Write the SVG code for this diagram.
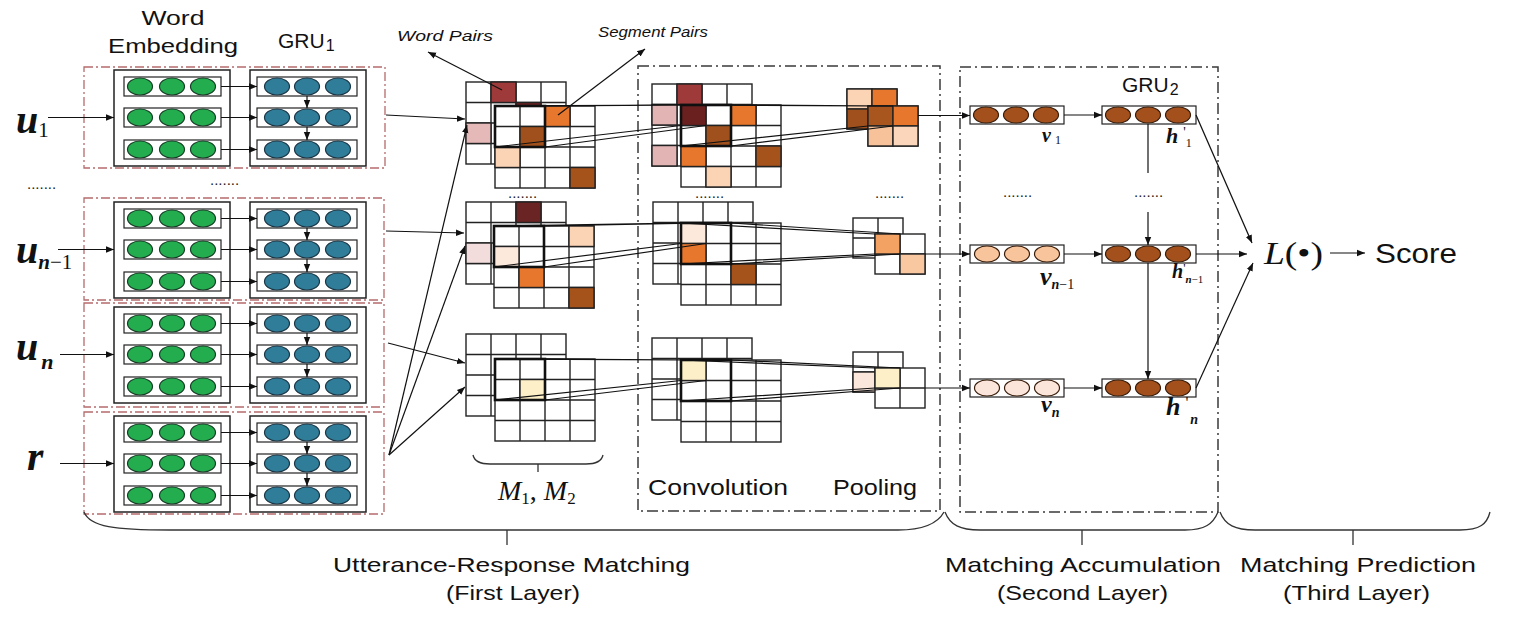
<svg xmlns="http://www.w3.org/2000/svg" xmlns:xlink="http://www.w3.org/1999/xlink" width="1524" height="624" viewBox="0 0 1524 624">
<style>
.sans{font-family:"Liberation Sans",Arial,sans-serif;fill:#111}
.ser{font-family:"Liberation Serif","Times New Roman",serif;fill:#111}
.bi{font-weight:bold;font-style:italic}
.it{font-style:italic}
.red{fill:none;stroke:#b56b6b;stroke-width:1.3;stroke-dasharray:9,3,2,3}
.gray{fill:none;stroke:#3a3a3a;stroke-width:1.5;stroke-dasharray:11,4,2,4}
.box{fill:none;stroke:#222;stroke-width:1.5}
.row{fill:#fff;stroke:#222;stroke-width:1.2}
.gr{fill:#23ad4e;stroke:#173f27;stroke-width:1.2}
.bl{fill:#2f7d98;stroke:#1b3646;stroke-width:1.2}
.cell{stroke:#222;stroke-width:1.4}
.grid{fill:#fff;stroke:#222;stroke-width:1.4}
.win{fill:none;stroke:#111;stroke-width:2.6}
.ln{fill:none;stroke:#111;stroke-width:1.2}
.ar{fill:none;stroke:#111;stroke-width:1.2;marker-end:url(#ah)}
.br{fill:none;stroke:#333;stroke-width:1.3}
.vb{fill:#fff;stroke:#222;stroke-width:1.2}
.dk{fill:#a3501c;stroke:#3a1e0c;stroke-width:1.2}
.dots{font-family:"Liberation Sans",Arial,sans-serif;font-size:15px;fill:#222}
</style>
<defs>
<marker id="ah" viewBox="0 0 10 10" refX="10" refY="5" markerWidth="8" markerHeight="8" markerUnits="userSpaceOnUse" orient="auto"><path d="M0,1 L10,5 L0,9 z" fill="#111"/></marker>
<g id="grow"><rect class="row" x="0" y="0" width="97" height="19"/><ellipse class="gr" cx="16" cy="9.5" rx="12.5" ry="8.5"/><ellipse class="gr" cx="48" cy="9.5" rx="12.5" ry="8.5"/><ellipse class="gr" cx="79" cy="9.5" rx="12.5" ry="8.5"/></g>
<g id="brow"><rect class="row" x="0" y="0" width="100" height="19"/><ellipse class="bl" cx="20" cy="9.5" rx="12.5" ry="8.5"/><ellipse class="bl" cx="50" cy="9.5" rx="12.5" ry="8.5"/><ellipse class="bl" cx="81" cy="9.5" rx="12.5" ry="8.5"/></g>
<g id="enc">
<rect class="box" x="114" y="0" width="116" height="96"/>
<rect class="box" x="250" y="0" width="116" height="96"/>
<use xlink:href="#grow" x="124" y="7"/><use xlink:href="#grow" x="124" y="38"/><use xlink:href="#grow" x="124" y="70"/>
<use xlink:href="#brow" x="257" y="7"/><use xlink:href="#brow" x="257" y="38"/><use xlink:href="#brow" x="257" y="70"/>
<path class="ar" d="M221,16.5H257"/><path class="ar" d="M221,47.5H257"/><path class="ar" d="M221,79.5H257"/>
<path class="ar" d="M307,26V38"/><path class="ar" d="M307,57V70"/>
</g>
<g id="grid4"><rect class="grid" x="0" y="0" width="100" height="82"/><path class="ln" style="stroke-width:1.4;stroke:#222" d="M25,0V82M50,0V82M75,0V82M0,20.5H100M0,41H100M0,61.5H100"/></g>
<g id="grid2"><rect class="grid" x="0" y="0" width="50" height="40"/><path class="ln" style="stroke-width:1.4;stroke:#222" d="M25,0V40M0,20H50"/></g>
<g id="vrowd"><rect class="vb" x="0" y="0" width="94" height="18"/><ellipse class="dk" cx="16" cy="9" rx="12.5" ry="8"/><ellipse class="dk" cx="46" cy="9" rx="12.5" ry="8"/><ellipse class="dk" cx="76" cy="9" rx="12.5" ry="8"/></g>
</defs>
<rect x="0" y="0" width="1524" height="624" fill="#fff"/>

<!-- header labels -->
<g id="labels-top">
<text class="sans" x="173" y="25" font-size="21" text-anchor="middle" textLength="63" lengthAdjust="spacingAndGlyphs">Word</text>
<text class="sans" x="173" y="53" font-size="21" text-anchor="middle" textLength="130" lengthAdjust="spacingAndGlyphs">Embedding</text>
<text class="sans" x="278" y="48" font-size="21">GRU<tspan font-size="16" dx="1" dy="3">1</tspan></text>
<text class="sans it" x="397" y="41" font-size="15" textLength="96" lengthAdjust="spacingAndGlyphs">Word Pairs</text>
<text class="sans it" x="598" y="37" font-size="14" textLength="110" lengthAdjust="spacingAndGlyphs">Segment Pairs</text>
<text class="dots" x="27" y="189">.......</text>
<text class="dots" x="210" y="185">.......</text>
</g>

<!-- encoder blocks -->
<g id="node-u1">
<rect class="red" x="84" y="67" width="301" height="101"/>
<use xlink:href="#enc" x="0" y="70"/>
<text class="ser bi" x="16" y="133" font-size="40">u<tspan font-weight="normal" font-style="normal" font-size="21" dy="4">1</tspan></text>
</g>
<g id="node-un1">
<rect class="red" x="84" y="198" width="300" height="102"/>
<use xlink:href="#enc" x="0" y="202"/>
<text class="ser bi" x="16" y="263" font-size="40">u<tspan font-size="21" dy="6">n</tspan><tspan font-weight="normal" font-style="normal" font-size="21">−1</tspan></text>
</g>
<g id="node-un">
<rect class="red" x="84" y="303" width="300" height="104"/>
<use xlink:href="#enc" x="0" y="307"/>
<text class="ser bi" x="16" y="360" font-size="40">u<tspan font-size="22" dx="3" dy="9">n</tspan></text>
</g>
<g id="node-r">
<rect class="red" x="84" y="412" width="300" height="102"/>
<use xlink:href="#enc" x="0" y="416"/>
<text class="ser bi" x="27" y="470" font-size="42">r</text>
</g>

<!-- convolution/pooling box -->
<g id="node-cnn-frame">
<rect class="gray" x="638" y="66" width="302" height="445"/>
<text class="sans" x="648" y="495" font-size="22" textLength="140" lengthAdjust="spacingAndGlyphs">Convolution</text>
<text class="sans" x="833" y="495" font-size="22" textLength="84" lengthAdjust="spacingAndGlyphs">Pooling</text>
</g>

<!-- matrices group 1 -->
<g id="node-m1">
<use xlink:href="#grid4" x="466" y="82"/>
<rect class="cell" x="491" y="82" width="25" height="20.5" fill="#9e3a3a"/>
<rect class="cell" x="516" y="102.5" width="25" height="20.5" fill="#6b2222"/>
<rect class="cell" x="466" y="123" width="25" height="20.5" fill="#e6b9b9"/>
<use xlink:href="#grid4" x="495" y="106"/>
<rect class="cell" x="545" y="106" width="25" height="20.5" fill="#e8772e"/>
<rect class="cell" x="520" y="126.5" width="25" height="20.5" fill="#a0501c"/>
<rect class="cell" x="495" y="147" width="25" height="20.5" fill="#fbd3b5"/>
<rect class="cell" x="570" y="167.5" width="25" height="20.5" fill="#a5521b"/>
<rect class="win" x="495" y="106" width="50" height="41"/>
<text class="dots" x="508" y="198">.......</text>
</g>
<g id="node-conv1">
<use xlink:href="#grid4" x="652" y="84"/>
<rect class="cell" x="677" y="84" width="25" height="20.5" fill="#9e3a3a"/>
<rect class="cell" x="652" y="104.5" width="25" height="20.5" fill="#e3b4b4"/>
<rect class="cell" x="652" y="145.5" width="25" height="20.5" fill="#e3b4b4"/>
<use xlink:href="#grid4" x="681" y="105"/>
<rect class="cell" x="681" y="105" width="25" height="20.5" fill="#6b2020"/>
<rect class="cell" x="731" y="105" width="25" height="20.5" fill="#e8772e"/>
<rect class="cell" x="706" y="125.5" width="25" height="20.5" fill="#a0501c"/>
<rect class="cell" x="681" y="146" width="25" height="20.5" fill="#e8772e"/>
<rect class="cell" x="756" y="146" width="25" height="20.5" fill="#a5521b"/>
<rect class="cell" x="706" y="166.5" width="25" height="20.5" fill="#fbd3b5"/>
<rect class="win" x="681" y="105" width="50" height="41"/>
<text class="dots" x="695" y="198">.......</text>
</g>
<g id="node-pool1">
<use xlink:href="#grid2" x="847" y="89"/>
<rect class="cell" x="847" y="89" width="25" height="20" fill="#fbd3b5"/>
<rect class="cell" x="872" y="89" width="25" height="20" fill="#e8772e"/>
<rect class="cell" x="847" y="109" width="25" height="20" fill="#a0501c"/>
<use xlink:href="#grid2" x="868" y="106"/>
<rect class="cell" x="868" y="106" width="25" height="20" fill="#a8561e"/>
<rect class="cell" x="893" y="106" width="25" height="20" fill="#e8772e"/>
<rect class="cell" x="868" y="126" width="25" height="20" fill="#f7c19a"/>
<rect class="cell" x="893" y="126" width="25" height="20" fill="#fbd6bb"/>
<text class="dots" x="875" y="198">.......</text>
</g>

<!-- matrices group 2 -->
<g id="node-m2">
<use xlink:href="#grid4" x="466" y="202"/>
<rect class="cell" x="516" y="202" width="25" height="20.5" fill="#6b2424"/>
<rect class="cell" x="466" y="243" width="25" height="20.5" fill="#f2dcdc"/>
<use xlink:href="#grid4" x="494" y="226"/>
<rect class="cell" x="569" y="226" width="25" height="20.5" fill="#fbd3b5"/>
<rect class="cell" x="494" y="246.5" width="25" height="20.5" fill="#fde8dc"/>
<rect class="cell" x="519" y="267" width="25" height="20.5" fill="#e8772e"/>
<rect class="cell" x="569" y="287.5" width="25" height="20.5" fill="#a5521b"/>
<rect class="win" x="494" y="226" width="50" height="41"/>
</g>
<g id="node-conv2">
<use xlink:href="#grid4" x="653" y="202"/>
<use xlink:href="#grid4" x="681" y="223"/>
<rect class="cell" x="681" y="223" width="25" height="20.5" fill="#fde8dc"/>
<rect class="cell" x="681" y="243.5" width="25" height="20.5" fill="#e8772e"/>
<rect class="cell" x="731" y="264" width="25" height="20.5" fill="#a5521b"/>
<rect class="win" x="681" y="223" width="50" height="41"/>
</g>
<g id="node-pool2">
<use xlink:href="#grid2" x="853" y="218"/>
<use xlink:href="#grid2" x="875" y="234"/>
<rect class="cell" x="875" y="234" width="25" height="20" fill="#f3a263"/>
<rect class="cell" x="900" y="254" width="25" height="20" fill="#f9c8a0"/>
</g>

<!-- matrices group 3 -->
<g id="node-m3">
<use xlink:href="#grid4" x="466" y="334"/>
<use xlink:href="#grid4" x="495" y="359"/>
<rect class="cell" x="520" y="379.5" width="25" height="20.5" fill="#fdf0c8"/>
<rect class="win" x="495" y="359" width="50" height="41"/>
</g>
<g id="node-conv3">
<use xlink:href="#grid4" x="652" y="338"/>
<use xlink:href="#grid4" x="681" y="360"/>
<rect class="cell" x="681" y="360" width="25" height="20.5" fill="#fdefc8"/>
<rect class="win" x="681" y="360" width="50" height="41"/>
</g>
<g id="node-pool3">
<use xlink:href="#grid2" x="853" y="352"/>
<rect class="cell" x="853" y="372" width="25" height="20" fill="#fbe6dc"/>
<use xlink:href="#grid2" x="875" y="368"/>
<rect class="cell" x="875" y="368" width="25" height="20" fill="#fdefc8"/>
</g>

<g id="node-m-label">
<path class="br" d="M473,455 Q475,464 490,464 L586,464 Q601,464 603,455 M538,464 V472"/>
<text class="ser it" x="498" y="500" font-size="28">M<tspan font-style="normal" font-size="17" dy="4">1</tspan><tspan font-style="normal" dy="-4">, </tspan>M<tspan font-style="normal" font-size="17" dy="4">2</tspan></text>
</g>

<!-- accumulation frame -->
<g id="node-gru2-frame">
<rect class="gray" x="960" y="67" width="258" height="445"/>
<text class="sans" x="1122" y="92" font-size="21">GRU<tspan font-size="16" dx="1" dy="3">2</tspan></text>
<text class="dots" x="1003" y="197">.......</text>
<text class="dots" x="1134" y="197">.......</text>
</g>
<g id="node-v1">
<use xlink:href="#vrowd" x="970" y="106"/>
<text class="ser bi" x="1042" y="142" font-size="20">v<tspan font-weight="normal" font-style="normal" font-size="12" dx="4" dy="2">1</tspan></text>
</g>
<g id="node-vn1">
<rect class="vb" x="970" y="245" width="94" height="18"/>
<ellipse cx="987" cy="254" rx="12.5" ry="8" fill="#f8c49b" stroke="#3a1e0c" stroke-width="1.2"/>
<ellipse cx="1017" cy="254" rx="12.5" ry="8" fill="#f8c49b" stroke="#3a1e0c" stroke-width="1.2"/>
<ellipse cx="1047" cy="254" rx="12.5" ry="8" fill="#f8c49b" stroke="#3a1e0c" stroke-width="1.2"/>
<text class="ser bi" x="1040" y="285" font-size="26">v<tspan font-size="14" dy="4">n</tspan><tspan font-weight="normal" font-style="normal" font-size="14">−1</tspan></text>
</g>
<g id="node-vn">
<rect class="vb" x="970" y="379" width="94" height="18"/>
<ellipse cx="987" cy="388" rx="12.5" ry="8" fill="#fbe5da" stroke="#3a1e0c" stroke-width="1.2"/>
<ellipse cx="1017" cy="388" rx="12.5" ry="8" fill="#fbe5da" stroke="#3a1e0c" stroke-width="1.2"/>
<ellipse cx="1047" cy="388" rx="12.5" ry="8" fill="#fbe5da" stroke="#3a1e0c" stroke-width="1.2"/>
<text class="ser bi" x="1041" y="412" font-size="24">v<tspan font-size="14" dy="5">n</tspan></text>
</g>
<g id="node-h1">
<use xlink:href="#vrowd" x="1102" y="106"/>
<text class="ser bi" x="1166" y="143" font-size="22">h<tspan font-weight="normal" font-style="normal" font-size="14" dx="5" dy="-6">'</tspan><tspan font-weight="normal" font-style="normal" font-size="12" dy="10">1</tspan></text>
</g>
<g id="node-hn1">
<use xlink:href="#vrowd" x="1102" y="245"/>
<text class="ser bi" x="1172" y="278" font-size="20">h<tspan font-weight="normal" font-style="normal" font-size="13" dy="-6">'</tspan><tspan font-size="11" dy="11">n</tspan><tspan font-weight="normal" font-style="normal" font-size="11">−1</tspan></text>
</g>
<g id="node-hn">
<use xlink:href="#vrowd" x="1102" y="379"/>
<text class="ser bi" x="1166" y="415" font-size="26">h<tspan font-weight="normal" font-style="normal" font-size="16" dx="5" dy="-7">'</tspan><tspan font-size="14" dx="2" dy="16">n</tspan></text>
</g>

<g id="node-L">
<text class="ser" x="1264" y="264" font-size="32" textLength="59" lengthAdjust="spacingAndGlyphs"><tspan font-style="italic">L</tspan>(•)</text>
</g>
<g id="node-score">
<text class="sans" x="1375" y="263" font-size="27" textLength="82" lengthAdjust="spacingAndGlyphs">Score</text>
</g>

<!-- connectors -->
<g id="connectors">
<path class="ar" d="M48,117.5H114"/>
<path class="ar" d="M58,249.5H114"/>
<path class="ar" d="M60,354.5H114"/>
<path class="ar" d="M60,463.5H114"/>
<path class="ar" d="M386,115L465,119"/>
<path class="ar" d="M386,231L464,233"/>
<path class="ar" d="M388,343L465,363"/>
<path class="ar" d="M389,455L467,125"/>
<path class="ar" d="M389,455L465,246"/>
<path class="ar" d="M389,455L465,387"/>
<path class="ar" d="M502,90L428,52"/>
<path class="ar" d="M558,115L645,49"/>
<path class="ln" d="M495,106L681,105M545,106L706,105M495,147L681,125.5M545,147L706,125.5"/>
<path class="ln" d="M681,105L868,106M731,105L893,106M681,146L868,126M731,146L893,126"/>
<path class="ln" d="M494,226L681,223M544,226L706,223M494,267L681,243.5M544,267L706,243.5"/>
<path class="ln" d="M681,223L875,234M731,223L900,234M681,264L875,254M731,264L900,254"/>
<path class="ln" d="M495,359L681,360M545,359L706,360M495,400L681,380.5M545,400L706,380.5"/>
<path class="ln" d="M681,360L875,368M731,360L900,368M681,401L875,388M731,401L900,388"/>
<path class="ar" d="M918,115.5H970"/>
<path class="ar" d="M925,254H970"/>
<path class="ar" d="M925,388H970"/>
<path class="ar" d="M1064,115H1102"/>
<path class="ar" d="M1064,254H1102"/>
<path class="ar" d="M1064,388H1102"/>
<path class="ln" d="M1148,124V173"/>
<path class="ar" d="M1148,212V245"/>
<path class="ar" d="M1148,263V379"/>
<path class="ar" d="M1196,115L1252,243"/>
<path class="ar" d="M1196,254H1247"/>
<path class="ar" d="M1196,388L1253,263"/>
<path class="ar" d="M1330,253H1365"/>
</g>

<!-- layer braces -->
<g id="node-layers">
<path class="br" d="M84,512 C90,527 115,530 170,530 L898,530 C925,530 938,523 944,512 M507,530 V545"/>
<path class="br" d="M945,512 C950,525 960,530 980,530 L1185,530 C1205,530 1213,524 1218,512 M1082,530 V545"/>
<path class="br" d="M1220,512 C1225,525 1235,530 1255,530 L1460,530 C1480,530 1487,524 1490,512 M1353,530 V545"/>
<text class="sans" x="333" y="572" font-size="21" textLength="357" lengthAdjust="spacingAndGlyphs">Utterance-Response Matching</text>
<text class="sans" x="446" y="600" font-size="21" textLength="134" lengthAdjust="spacingAndGlyphs">(First Layer)</text>
<text class="sans" x="945" y="572" font-size="21" textLength="276" lengthAdjust="spacingAndGlyphs">Matching Accumulation</text>
<text class="sans" x="997" y="600" font-size="21" textLength="171" lengthAdjust="spacingAndGlyphs">(Second Layer)</text>
<text class="sans" x="1240" y="572" font-size="21" textLength="236" lengthAdjust="spacingAndGlyphs">Matching Prediction</text>
<text class="sans" x="1283" y="600" font-size="21" textLength="147" lengthAdjust="spacingAndGlyphs">(Third Layer)</text>
</g>
</svg>
